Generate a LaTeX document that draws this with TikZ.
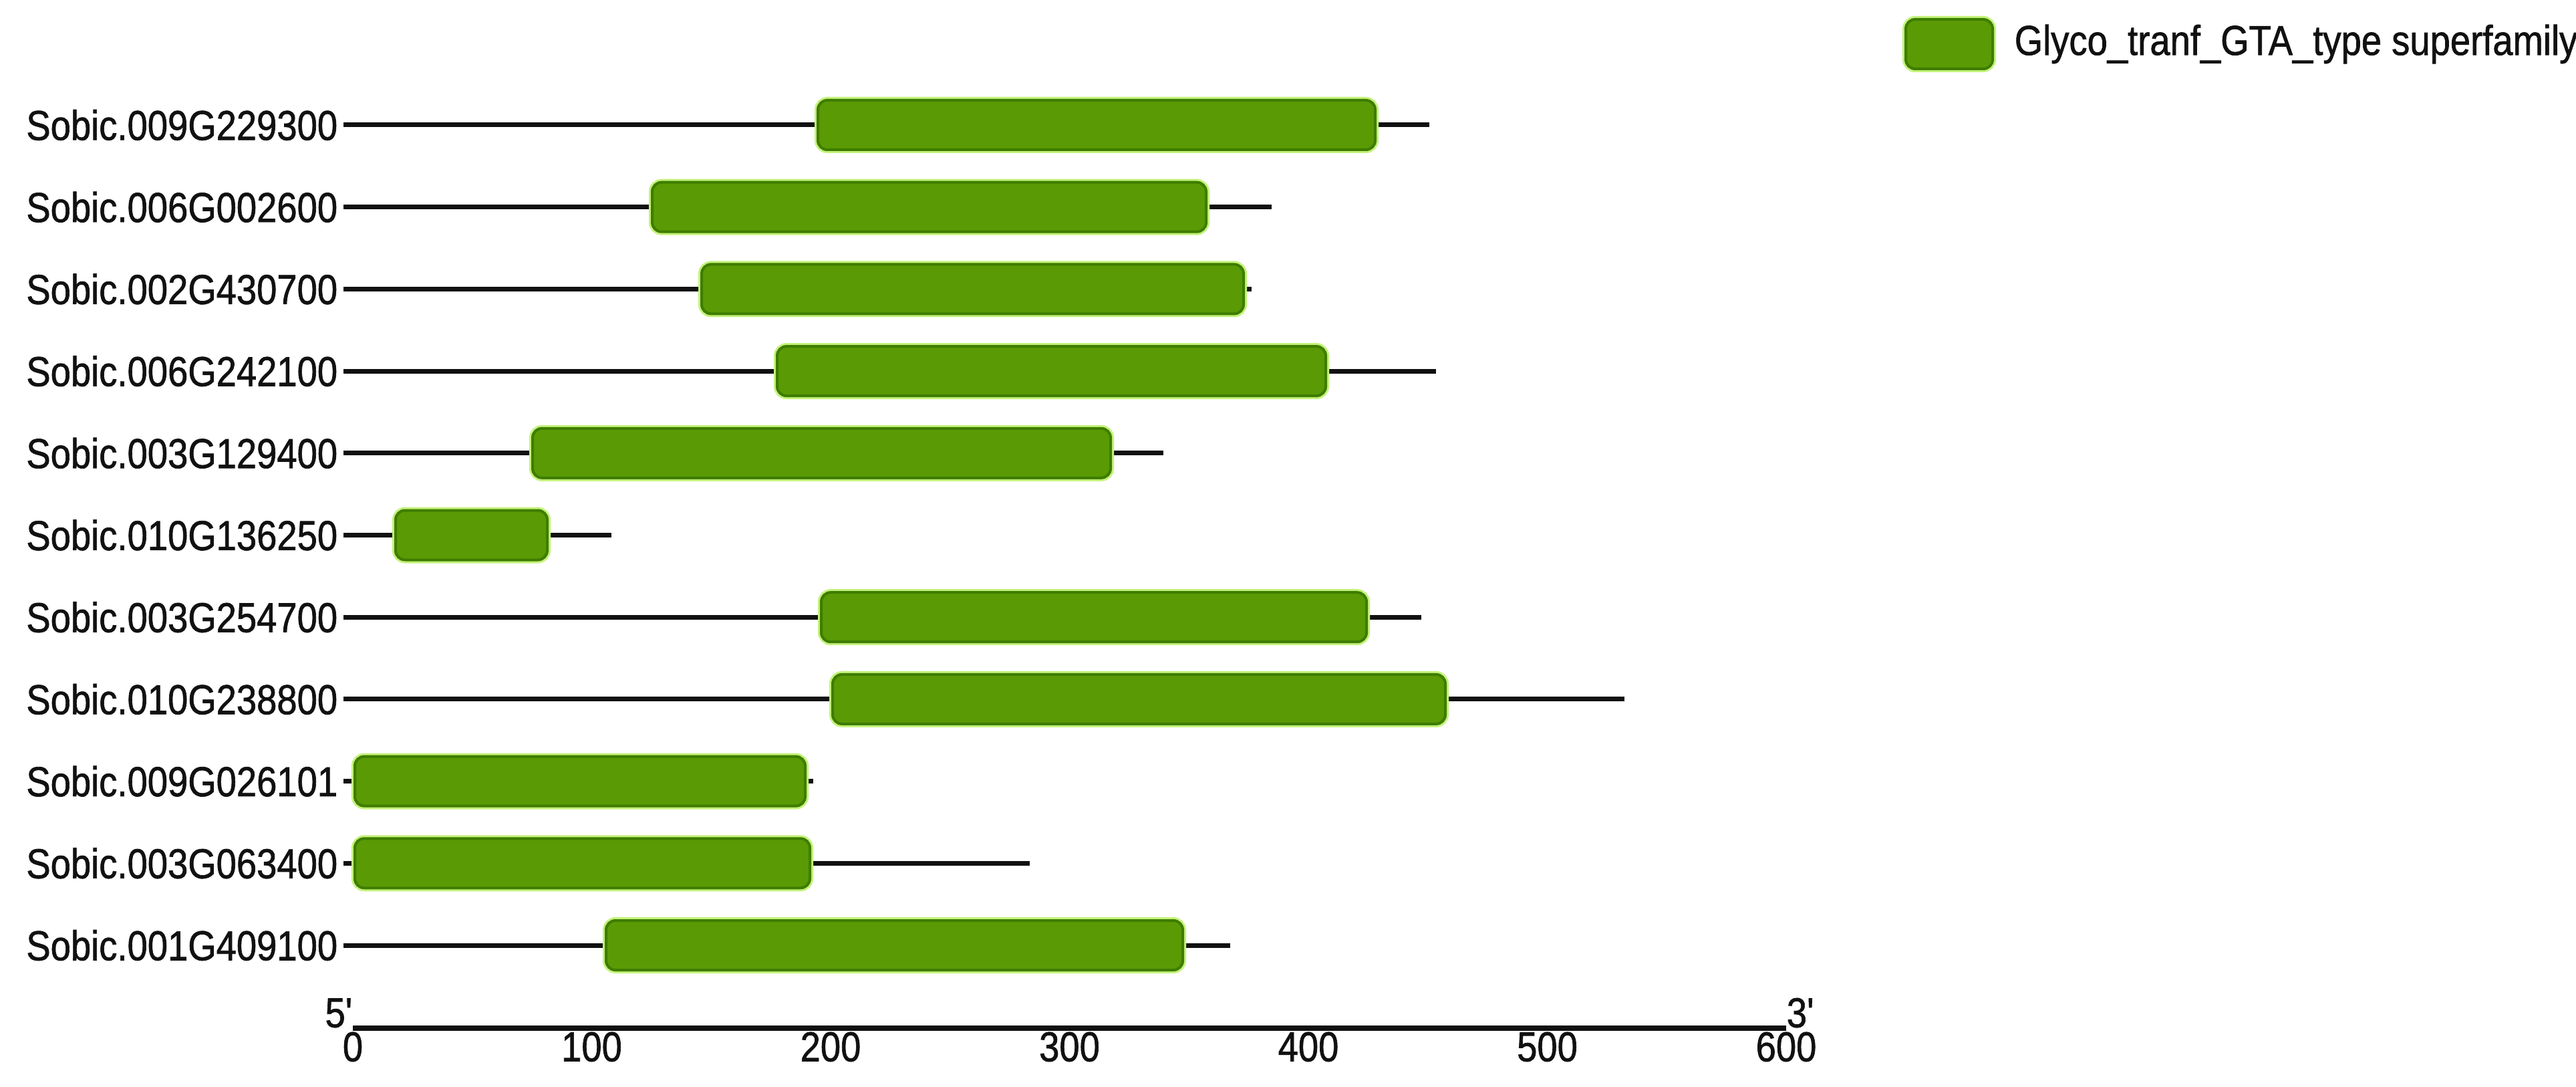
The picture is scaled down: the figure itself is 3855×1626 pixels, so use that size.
\documentclass[tikz,border=0pt]{standalone}
\usepackage{fontspec}
\usepackage{graphicx}
\setmainfont{Liberation Sans}
\newfontfamily\lblfont[Ligatures=TeXOff,FakeBold=1.2]{Liberation Sans}
\definecolor{domfill}{HTML}{5A9A04}
\definecolor{domedge}{HTML}{3E7D00}
\definecolor{domglow}{HTML}{C4F27A}
\definecolor{ink}{HTML}{111111}
\newcommand{\stretchtxt}[1]{\scalebox{1}[1.15]{#1}}
\begin{document}
\begin{tikzpicture}[x=0.25pt,y=-0.25pt,
  lbl/.style={font=\lblfont\fontsize{13.6pt}{16pt}\selectfont, text=ink, inner sep=2pt},
  backbone/.style={draw=ink, line width=1.75pt},
  axisline/.style={draw=ink, line width=2pt},
  dom/.style={rectangle, rounded corners=3.5pt, fill=domfill, draw=domedge, line width=1pt,
    minimum height=18.5pt, inner sep=0pt,
    preaction={draw=domglow, line width=2.5pt}}]
\useasboundingbox[fill=white] (0,0) rectangle (3855,1626);
% legend
\node[dom, minimum width=32.5pt] (leg) at (2917,66) {};
\node[lbl, anchor=west] (legtxt) at (3006,66) {\stretchtxt{Glyco\_tranf\_GTA\_type superfamily}};
% genes
\foreach \i/\name/\bs/\be/\le in {
  0/Sobic.009G229300/1224/2058/2139,
  1/Sobic.006G002600/976/1805/1903,
  2/Sobic.002G430700/1050/1861/1873,
  3/Sobic.006G242100/1163/1984/2149,
  4/Sobic.003G129400/797/1662/1741,
  5/Sobic.010G136250/592/819/915,
  6/Sobic.003G254700/1229/2045/2127,
  7/Sobic.010G238800/1246/2163/2431,
  8/Sobic.009G026101/531/1205/1217,
  9/Sobic.003G063400/531/1212/1541,
  10/Sobic.001G409100/907/1770/1841}{
  \pgfmathsetmacro{\yy}{187+122.7*\i}
  \pgfmathsetmacro{\xc}{(\bs+\be)/2}
  \pgfmathsetmacro{\ww}{(\be-\bs)*0.25}
  \node[lbl, anchor=east] (l\i) at (514,\yy) {\stretchtxt{\name}};
  \coordinate (e\i) at (\le,\yy);
  \draw[backbone] (l\i.east) -- (e\i);
  \node[dom, minimum width=\ww pt] (b\i) at (\xc,\yy) {};
}
% axis
\coordinate (a0) at (528,1538);
\coordinate (a6) at (2673,1538);
\draw[axisline] (a0) -- (a6);
\node[lbl, anchor=south east, inner sep=0pt] (five) at (a0) {\stretchtxt{5'}};
\node[lbl, anchor=south west, inner sep=0pt] (three) at (a6) {\stretchtxt{3'}};
\foreach \k in {0,...,6}{
  \pgfmathsetmacro{\tx}{528+357.5*\k}
  \pgfmathtruncatemacro{\tv}{100*\k}
  \node[lbl, anchor=north, inner sep=0pt] (t\k) at (\tx,1543) {\stretchtxt{\tv}};
}
\end{tikzpicture}
\end{document}
